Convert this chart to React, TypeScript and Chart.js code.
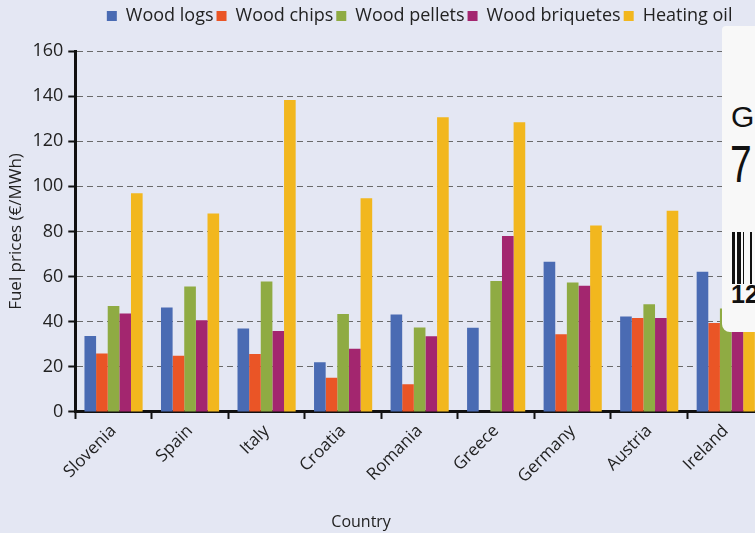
import React, { useEffect, useRef } from "react";
import { Chart, registerables } from "chart.js";

Chart.register(...registerables);

const countries = ["Slovenia", "Spain", "Italy", "Croatia", "Romania", "Greece", "Germany", "Austria", "Ireland"];
const woodLogs = [33.7, 46.3, 37.0, 22.0, 43.2, 37.3, 66.6, 42.3, 62.1];
const woodChips = [25.9, 24.9, 25.7, 15.2, 12.3, null, 34.5, 41.6, 39.4];
const woodPellets = [47.0, 55.6, 57.8, 43.4, 37.4, 58.1, 57.4, 47.8, 45.9];
const woodBriquetes = [43.6, 40.7, 35.9, 28.0, 33.6, 78.0, 55.9, 41.6, 38.0];
const heatingOil = [96.9, 88.0, 138.3, 94.7, 130.6, 128.4, 82.6, 89.2, 95.0];
const seriesNames = ["Wood logs", "Wood chips", "Wood pellets", "Wood briquetes", "Heating oil"];
const seriesColors = ["#4a6bb3", "#ea5526", "#8fab43", "#a3266f", "#f2b71e"];
const yMin = 0;
const yMax = 160;
const yStep = 20;
const xTitle = "Country";
const yTitle = "Fuel prices (€/MWh)";

const FONT = "'Open Sans', sans-serif";

const barcodeBars = [2, 1, 3, 1, 1, 4, 1, 2, 1, 3, 1, 1, 2];

export default function App() {
  const ref = useRef<HTMLCanvasElement | null>(null);

  useEffect(() => {
    if (!ref.current) return;
    const values = [woodLogs, woodChips, woodPellets, woodBriquetes, heatingOil];
    const xTitlePlugin = {
      id: "xTitlePlugin",
      afterDraw(chart: any) {
        const { ctx, chartArea } = chart;
        ctx.save();
        ctx.font = `16px ${FONT}`;
        ctx.fillStyle = "#222";
        ctx.textAlign = "center";
        ctx.textBaseline = "middle";
        const x = chartArea.left + (chartArea.right - chartArea.left) * 0.415;
        ctx.fillText(xTitle, x, 522);
        ctx.restore();
      },
    };
    const legendGap = {
      id: "legendGap",
      beforeInit(chart: any) {
        const legend = chart.legend;
        if (!legend) return;
        const fit = legend.fit;
        legend.fit = function () {
          fit.call(this);
          this.height += 16;
        };
      },
    };
    const chart = new Chart(ref.current, {
      type: "bar",
      data: {
        labels: countries,
        datasets: values.map((v, i) => ({
          label: seriesNames[i],
          data: v,
          backgroundColor: seriesColors[i],
          borderWidth: 0,
          categoryPercentage: 0.76,
          barPercentage: 1.0,
        })),
      },
      options: {
        animation: false,
        responsive: true,
        maintainAspectRatio: false,
        layout: { padding: { left: 6, right: 86, top: 4, bottom: 44 } },
        plugins: {
          legend: {
            display: true,
            position: "top",
            fullSize: false,
            labels: {
              boxWidth: 10,
              boxHeight: 10,
              padding: 3,
              color: "#222",
              font: { family: FONT, size: 18 },
            },
          },
          tooltip: { enabled: false },
        },
        scales: {
          x: {
            grid: {
              display: true,
              drawOnChartArea: false,
              drawTicks: true,
              tickLength: 7,
              tickColor: "#111",
              tickWidth: 2,
              offset: true,
            },
            border: { display: true, color: "#111", width: 3 },
            ticks: {
              autoSkip: false,
              minRotation: 45,
              maxRotation: 45,
              color: "#222",
              font: { family: FONT, size: 17 },
              padding: 2,
            },
          },
          y: {
            min: yMin,
            max: yMax,
            grid: {
              color: "#6a6a6a",
              lineWidth: 1,
              drawTicks: true,
              tickLength: 7,
              tickColor: "#111",
              tickWidth: 2,
              tickBorderDash: [],
            },
            border: { display: true, color: "#111", width: 3, dash: [6, 4] },
            ticks: {
              stepSize: yStep,
              color: "#222",
              font: { family: FONT, size: 18 },
              padding: 5,
            },
            title: {
              display: true,
              text: yTitle,
              color: "#222",
              font: { family: FONT, size: 17 },
              padding: { top: 0, bottom: 1 },
            },
          },
        },
      },
      plugins: [xTitlePlugin, legendGap],
    });
    return () => chart.destroy();
  }, []);

  return (
    <div
      style={{
        position: "fixed",
        left: 0,
        top: 0,
        width: 755,
        height: 533,
        overflow: "hidden",
        background: "#e4e7f3",
      }}
    >
      <div style={{ position: "absolute", left: 0, top: 0, width: 850, height: 533 }}>
        <canvas ref={ref} />
      </div>
      <div
        style={{
          position: "absolute",
          left: 722,
          top: 26,
          width: 40,
          height: 306,
          background: "#f8f8f8",
          borderTopLeftRadius: 4,
          borderBottomLeftRadius: 8,
          fontFamily: "'Liberation Sans', Arial, sans-serif",
          color: "#111",
        }}
      >
        <div style={{ position: "absolute", left: 9, top: 76, fontSize: 30, lineHeight: "30px" }}>G</div>
        <div
          style={{
            position: "absolute",
            left: 8,
            top: 112,
            fontSize: 52,
            lineHeight: "52px",
            transform: "scaleX(0.75)",
            transformOrigin: "left top",
          }}
        >
          7
        </div>
        <div style={{ position: "absolute", left: 10, top: 206, height: 52, display: "flex" }}>
          {barcodeBars.map((w, i) => (
            <div
              key={i}
              style={{ width: w * 1.5, height: 52, background: i % 2 === 0 ? "#111" : "transparent" }}
            />
          ))}
        </div>
        <div
          style={{ position: "absolute", left: 9, top: 256, fontSize: 25, fontWeight: 700, lineHeight: "25px" }}
        >
          12
        </div>
      </div>
    </div>
  );
}
